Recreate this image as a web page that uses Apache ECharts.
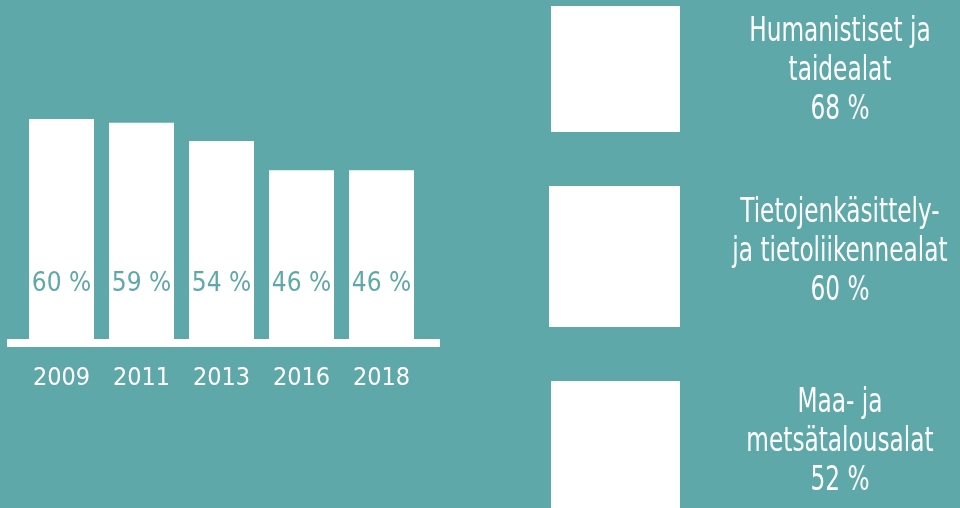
<!DOCTYPE html>
<html>
<head>
<meta charset="utf-8">
<script src="https://cdn.jsdelivr.net/npm/echarts@6/dist/echarts.min.js"></script>
<style>
  html, body { margin: 0; padding: 0; background: #5fa8aa; }
  #chart { width: 960px; height: 508px; }
</style>
</head>
<body>
<div id="chart"></div>
<script>
// vuodet ja osuudet
var years = ['2009', '2011', '2013', '2016', '2018']
var shares = [60, 59, 54, 46, 46]

// alat oikealla
var fieldNames = ['Humanistiset ja\ntaidealat', 'Tietojenkäsittely-\nja tietoliikennealat', 'Maa- ja\nmetsätalousalat']
var fieldShares = [68, 60, 52]

var bg = '#5fa8aa'
var font = '"DejaVu Sans Condensed", "Liberation Sans Narrow", sans-serif'

var boxes = [
  { x: 551, y: 6, w: 129, h: 126, textTop: 13 },
  { x: 549, y: 186, w: 131, h: 141, textTop: 194 },
  { x: 551, y: 381, w: 129, h: 140, textTop: 384 }
]

var graphics = []
boxes.forEach(function (b, i) {
  graphics.push({
    type: 'rect',
    shape: { x: b.x, y: b.y, width: b.w, height: b.h },
    style: { fill: '#fff' }
  })
  // kapeampi teksti: skaalataan vaakasuunnassa
  graphics.push({
    type: 'text',
    x: 840,
    y: b.textTop,
    scaleX: 0.76,
    style: {
      text: fieldNames[i] + '\n' + fieldShares[i] + ' %',
      fill: '#fff',
      font: '34px ' + font,
      lineHeight: 39,
      textAlign: 'center',
      textVerticalAlign: 'top'
    }
  })
})

var myChart = echarts.init(document.getElementById('chart'))
var option = {
  backgroundColor: bg,
  animation: false,
  grid: [
    { left: 21.5, width: 400, top: 119, bottom: 169 },
    // pohjaviiva
    { left: 7, width: 433, top: 300, bottom: 165 }
  ],
  xAxis: [
    {
      type: 'category',
      gridIndex: 0,
      data: years,
      axisLine: { show: false },
      axisTick: { show: false },
      axisLabel: {
        interval: 0,
        color: '#fff',
        fontFamily: font,
        fontSize: 25,
        margin: 27
      }
    },
    {
      type: 'value',
      gridIndex: 1,
      min: 0,
      max: 1,
      axisLine: { show: true, lineStyle: { color: '#fff', width: 8, cap: 'butt' } },
      axisTick: { show: false },
      axisLabel: { show: false },
      splitLine: { show: false }
    }
  ],
  yAxis: [
    {
      type: 'value',
      gridIndex: 0,
      min: 0,
      max: 60,
      show: false
    },
    {
      type: 'value',
      gridIndex: 1,
      show: false
    }
  ],
  series: [{
    type: 'bar',
    xAxisIndex: 0,
    yAxisIndex: 0,
    data: shares,
    barWidth: 65,
    itemStyle: { color: '#fff' },
    label: {
      show: true,
      position: 'insideBottom',
      distance: 42,
      color: bg,
      fontFamily: font,
      fontSize: 26,
      formatter: function (p) {
        return p.value + ' %'
      }
    }
  }],
  graphic: graphics
}
myChart.setOption(option)
window.addEventListener('resize', function () {
  myChart.resize()
})
</script>
</body>
</html>
